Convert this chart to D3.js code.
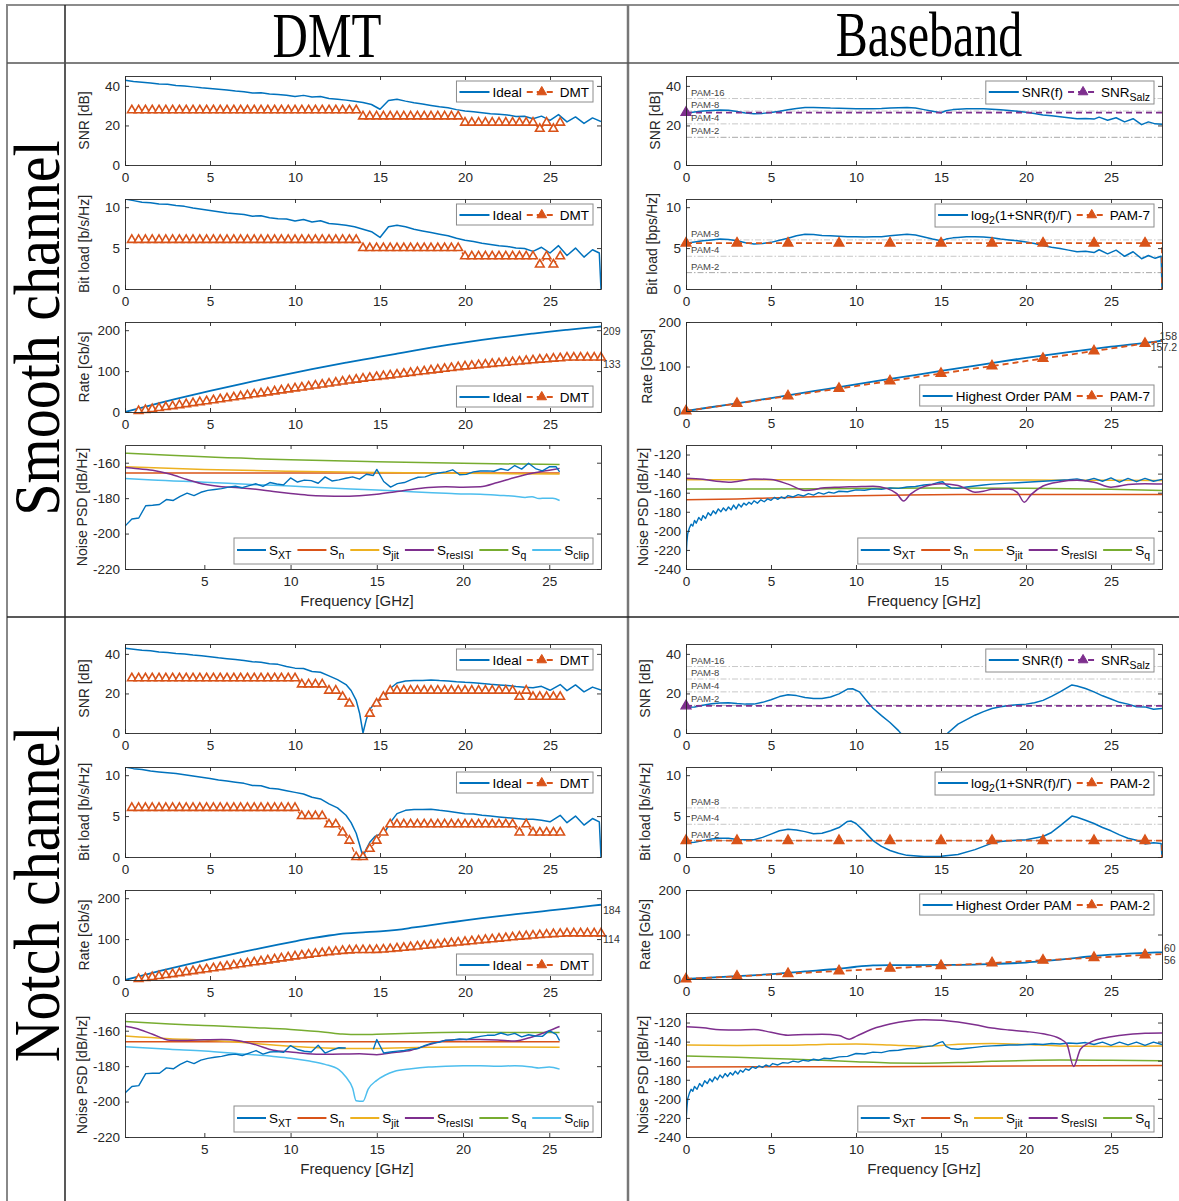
<!DOCTYPE html>
<html><head><meta charset="utf-8">
<script src="https://cdn.jsdelivr.net/npm/d3@7"></script>
<style>body{margin:0;background:#fff}svg{display:block}</style>
</head><body>
<svg id="chart" width="1179" height="1201"></svg>
<script>
// ================= DATA =================
const columnTitles = ["DMT", "Baseband"];
const rowTitles = ["Smooth channel", "Notch channel"];
const freqTicks = [0, 5, 10, 15, 20, 25];
const freqTicksPsdDmt = [5, 10, 15, 20, 25];
const snrTicks = [0, 20, 40];
const bitTicks = [0, 5, 10];
const rateTicks = [0, 100, 200];
const psdTicksDmt = [-220, -200, -180, -160];
const psdTicksBb = [-240, -220, -200, -180, -160, -140, -120];
const pamSnrLevels = [33.6, 27.3, 20.8, 14.0];
const pamSnrLabels = ["PAM-16", "PAM-8", "PAM-4", "PAM-2"];
const pamBitLevels = [6, 4, 2];
const pamBitLabels = ["PAM-8", "PAM-4", "PAM-2"];

const dmtSubcarrierGHz = [0.4,0.8,1.2,1.6,2.0,2.4,2.8,3.2,3.6,4.0, 4.4,4.8,5.2,5.6,6.0,6.4,6.8,7.2,7.6,8.0, 8.4,8.8,9.2,9.6,10.0,10.4,10.8,11.2,11.6,12.0, 12.4,12.8,13.2,13.6,14.0,14.4,14.8,15.2,15.6,16.0, 16.4,16.8,17.2,17.6,18.0,18.4,18.8,19.2,19.6,20.0, 20.4,20.8,21.2,21.6,22.0,22.4,22.8,23.2,23.6,24.0, 24.4,24.8,25.2,25.6];
const dmtRateGHz = [0.8,1.2,1.6,2.0,2.4,2.8,3.2,3.6,4.0,4.4, 4.8,5.2,5.6,6.0,6.4,6.8,7.2,7.6,8.0,8.4, 8.8,9.2,9.6,10.0,10.4,10.8,11.2,11.6,12.0,12.4, 12.8,13.2,13.6,14.0,14.4,14.8,15.2,15.6,16.0,16.4, 16.8,17.2,17.6,18.0,18.4,18.8,19.2,19.6,20.0,20.4, 20.8,21.2,21.6,22.0,22.4,22.8,23.2,23.6,24.0,24.4, 24.8,25.2,25.6,26.0,26.4,26.8,27.2,27.6,28.0];

// ---- Smooth channel / DMT ----
const smoothDmtSnrIdeal = [[0,42.8],[0.5,42.2],[1,41.9],[1.5,41.5],[2,41.0],[2.5,40.8],[3,40.2],[3.5,40.0],[4,39.5],[4.5,39.0],[5,38.7],[5.5,38.3],[6,37.9],[6.5,37.4],[7,37.0],[7.5,36.4],[8,36.5],[8.5,35.9],[9,35.6],[9.5,35.3],[10,34.6],[10.5,35.2],[11,34.4],[11.5,34.6],[12,33.6],[12.5,33.3],[13,32.8],[13.5,32.2],[14,31.6],[14.5,30.6],[15,28.2],[15.5,32.6],[16,33.2],[16.5,32.3],[17,31.5],[17.5,30.8],[18,30.1],[18.5,29.4],[19,28.9],[19.5,28.0],[20,27.3],[20.5,26.9],[21,26.4],[21.5,25.9],[22,25.6],[22.5,25.3],[23,24.5],[23.5,24.6],[24,23.4],[24.5,24.7],[25,22.6],[25.5,25.5],[26,21.8],[26.5,24.3],[27,21.0],[27.5,23.8],[28,22.0]];
const smoothDmtSnr = [27.7,27.7,27.7,27.7,27.7,27.7,27.7,27.7,27.7,27.7, 27.7,27.7,27.7,27.7,27.7,27.7,27.7,27.7,27.7,27.7, 27.7,27.7,27.7,27.7,27.7,27.7,27.7,27.7,27.7,27.7, 27.7,27.7,27.7,27.7,24.6,24.6,24.6,24.6,24.6,24.6, 24.6,24.6,24.6,24.6,24.6,24.6,24.6,24.6,24.6,21.4, 21.4,21.4,21.4,21.4,21.4,21.4,21.4,21.4,21.4,21.4, 18.3,21.4,18.3,21.4];
const smoothDmtBitIdeal = [[0,11.0],[0.5,10.8],[1,10.6],[1.5,10.55],[2,10.4],[2.5,10.35],[3,10.2],[3.5,10.1],[4,9.9],[4.5,9.75],[5,9.6],[5.5,9.45],[6,9.3],[6.5,9.2],[7,9.1],[7.5,8.9],[8,8.95],[8.5,8.7],[9,8.6],[9.5,8.55],[10,8.3],[10.5,8.5],[11,8.2],[11.5,8.35],[12,8.0],[12.5,7.9],[13,7.8],[13.5,7.6],[14,7.3],[14.5,7.0],[15,6.3],[15.5,7.6],[16,7.8],[16.5,7.6],[17,7.3],[17.5,7.1],[18,6.9],[18.5,6.7],[19,6.5],[19.5,6.2],[20,5.95],[20.5,5.8],[21,5.6],[21.5,5.45],[22,5.3],[22.5,5.2],[23,5.0],[23.5,4.95],[24,4.6],[24.5,5.1],[25,4.4],[25.5,5.3],[26,4.1],[26.5,5.0],[27,3.9],[27.5,4.8],[27.9,4.4],[28,0]];
const smoothDmtBits = [6,6,6,6,6,6,6,6,6,6, 6,6,6,6,6,6,6,6,6,6, 6,6,6,6,6,6,6,6,6,6, 6,6,6,6,5,5,5,5,5,5, 5,5,5,5,5,5,5,5,5,4, 4,4,4,4,4,4,4,4,4,4, 3,4,3,4];
const smoothDmtRateIdeal = [[0,0],[1,10.9],[2,21.6],[3,31.9],[4,41.9],[5,51.6],[6,61.0],[7,70.2],[8,79.2],[9,87.9],[10,96.4],[11,104.7],[12,112.8],[13,120.7],[14,128.3],[15,135.2],[16,142.6],[17,150.2],[18,157.4],[19,164.1],[20,170.3],[21,176.2],[22,181.7],[23,186.9],[24,191.8],[25,196.5],[26,200.9],[27,205.1],[28,209]];
const smoothDmtRate = [2.4,4.8,7.2,9.6,12.0,14.4,16.8,19.2,21.6,24.0, 26.4,28.8,31.2,33.6,36.0,38.4,40.8,43.2,45.6,48.0, 50.4,52.8,55.2,57.6,60.0,62.4,64.8,67.2,69.6,72.0, 74.4,76.8,79.2,81.6,83.6,85.6,87.6,89.6,91.6,93.6, 95.6,97.6,99.6,101.6,103.6,105.6,107.6,109.6,111.6,113.0, 114.5,116.0,117.5,119.0,120.5,122.0,123.5,125.0,126.5,128.0, 129.0,130.5,131.5,133.0,133.0,133.0,133.0,133.0,133.0];
const smoothDmtRateEnd = ["209", "133"];
const smoothDmtXT = [[0.4,-195.8],[0.8,-191.8],[1.2,-191.2],[1.6,-184.3],[2.0,-184.0],[2.4,-183.6],[2.8,-180.8],[3.2,-181.3],[3.6,-179.0],[4.0,-177.2],[4.4,-178.6],[4.8,-176.7],[5.2,-175.6],[5.6,-175.1],[6.0,-174.6],[6.4,-173.8],[6.8,-173.3],[7.2,-174.1],[7.6,-172.9],[8.0,-171.9],[8.4,-173.4],[8.8,-171.2],[9.2,-172.0],[9.6,-172.5],[10.0,-168.6],[10.4,-170.9],[10.8,-169.8],[11.2,-170.1],[11.6,-171.6],[12.0,-168.0],[12.4,-170.3],[12.8,-169.7],[13.2,-168.8],[13.6,-168.0],[14.0,-169.3],[14.4,-166.5],[14.8,-167.2],[15.0,-163.8],[15.4,-170.6],[15.8,-173.8],[16.2,-171.8],[16.6,-171.2],[17.0,-169.5],[17.4,-168.2],[17.8,-168.0],[18.2,-166.6],[18.6,-165.8],[19.0,-165.2],[19.4,-164.0],[19.8,-166.8],[20.2,-166.6],[20.6,-165.2],[21.0,-164.7],[21.4,-164.6],[21.8,-164.8],[22.2,-163.4],[22.6,-164.3],[23.0,-161.6],[23.4,-163.6],[23.8,-160.3],[24.2,-163.3],[24.6,-164.6],[25.0,-162.3],[25.4,-162.3],[25.6,-165.2]];
const smoothDmtSn = [[0.4,-165.8],[25.6,-165.8]];
const smoothDmtSjit = [[0.4,-162.3],[5,-163.8],[10,-164.8],[15,-165.5],[20,-166.0],[25.6,-166.4]];
const smoothDmtResIsi = [[0.4,-162.7],[1,-163.2],[2,-164.3],[3,-166.4],[4,-169.5],[5,-172.2],[6,-173.6],[7,-174.1],[8,-175.0],[9,-176.3],[10,-177.4],[11,-178.3],[12,-178.8],[13,-179.0],[14,-178.6],[15,-177.8],[16,-176.5],[17,-175.1],[18,-174.0],[19,-173.5],[20,-173.8],[21,-173.6],[22,-171.2],[23,-168.4],[24,-166.0],[25,-164.2],[25.6,-163.2]];
const smoothDmtSq = [[0.4,-154.6],[3,-155.8],[5,-156.7],[10,-158.3],[15,-159.4],[20,-160.3],[25.6,-161.0]];
const smoothDmtSclip = [[0.4,-168.9],[2,-169.8],[5,-171.0],[8,-172.4],[10,-173.2],[12,-174.2],[15,-175.4],[17,-176.4],[19,-177.2],[20,-177.6],[21,-177.8],[22,-178.4],[23,-178.9],[23.6,-179.6],[24,-179.2],[24.4,-180.2],[24.8,-180.0],[25.2,-180.1],[25.6,-181.3]];

// ---- Smooth channel / Baseband ----
const smoothBbSnr = [[0,26.2],[0.5,26.8],[1,27.3],[1.5,27.6],[2,27.8],[2.5,27.7],[3,27.0],[3.5,26.3],[4,25.9],[4.5,26.1],[5,26.6],[5.5,27.2],[6,27.9],[6.5,28.6],[7,29.1],[7.5,29.1],[8,29.0],[8.5,28.8],[9,28.7],[9.5,28.6],[10,28.4],[10.5,28.4],[11,28.5],[11.5,28.6],[12,28.8],[12.5,29.0],[13,29.1],[13.5,28.8],[14,28.0],[14.5,27.2],[15,26.4],[15.3,27.4],[15.7,28.0],[16,28.2],[16.5,28.4],[17,28.5],[17.5,28.4],[18,28.2],[18.5,27.9],[19,27.6],[19.5,27.2],[20,26.7],[20.5,26.0],[21,25.3],[21.5,24.9],[22,24.4],[22.5,23.9],[23,23.4],[23.5,23.5],[24,23.2],[24.3,24.2],[24.8,22.6],[25.3,23.9],[25.8,21.8],[26.3,23.4],[26.8,20.4],[27.2,21.8],[27.6,20.8],[28,20.6]];
const smoothBbSalz = 26.5;
const smoothBbBits = [[0,5.6],[0.5,5.75],[1,5.9],[1.5,6.0],[2,6.1],[2.5,6.05],[3,5.9],[3.5,5.65],[4,5.5],[4.5,5.55],[5,5.7],[5.5,5.95],[6,6.2],[6.5,6.5],[7,6.7],[7.5,6.65],[8,6.55],[8.5,6.5],[9,6.45],[9.5,6.4],[10,6.4],[10.5,6.35],[11,6.4],[11.5,6.4],[12,6.5],[12.5,6.6],[13,6.7],[13.5,6.6],[14,6.35],[14.5,6.1],[15,5.9],[15.3,6.1],[15.7,6.25],[16,6.3],[16.5,6.4],[17,6.4],[17.5,6.35],[18,6.25],[18.5,6.1],[19,6.0],[19.5,5.9],[20,5.75],[20.5,5.55],[21,5.3],[21.5,5.1],[22,4.95],[22.5,4.75],[23,4.55],[23.5,4.6],[24,4.45],[24.3,4.8],[24.8,4.3],[25.3,4.75],[25.8,4.0],[26.3,4.55],[26.8,3.7],[27.2,4.1],[27.6,3.75],[27.95,4.0],[28,0]];
const smoothBbPam7Bits = [[0,5.6],[3,5.6],[6,5.6],[9,5.6],[12,5.6],[15,5.6],[18,5.6],[21,5.6],[24,5.6],[27,5.6],[28,5.6],[28,0]];
const smoothBbRateHighest = [[0,0],[2.5,14.5],[5,29],[7.5,44.5],[10,60],[12.5,75],[15,90],[17.5,105],[20,119.5],[22.5,132.5],[25,144.5],[27.5,155.5],[28,158]];
const smoothBbRatePam7 = [[0,0],[3,16.8],[6,33.7],[9,50.5],[12,67.4],[15,84.2],[18,101.0],[21,117.9],[24,134.8],[27,151.6],[28,157.2]];
const smoothBbRateEnd = ["158", "157.2"];
const smoothBbXT = [[0,-230],[0.05,-212],[0.1,-203],[0.2,-197],[0.3,-193],[0.4,-195],[0.5,-189],[0.6,-192],[0.75,-186],[0.9,-189],[1,-184],[1.15,-187],[1.3,-181],[1.45,-184],[1.6,-179],[1.75,-182],[1.9,-177],[2.05,-180],[2.2,-176],[2.35,-179],[2.5,-175],[2.65,-178],[2.8,-173],[2.95,-177],[3.1,-172],[3.25,-175],[3.4,-171],[3.55,-173],[3.7,-170],[3.85,-172],[4,-168.5],[4.2,-171],[4.4,-167.5],[4.6,-169.5],[4.8,-166.5],[5,-168],[5.2,-165],[5.4,-167],[5.6,-164.5],[5.8,-166],[6,-163],[6.3,-164.5],[6.6,-162],[6.9,-163.5],[7.2,-161],[7.5,-162.5],[7.8,-160],[8.1,-161.5],[8.4,-159.5],[8.7,-160.5],[9,-158.5],[9.5,-159],[10,-157],[10.5,-157.5],[11,-156],[11.5,-156.5],[12,-155],[12.5,-155.5],[13,-154],[13.5,-153.5],[14,-152],[14.5,-151],[14.9,-149],[15.1,-148.5],[15.3,-152],[15.6,-155],[16,-155.5],[16.5,-154],[17,-153],[17.5,-152],[18,-151],[18.5,-150.5],[19,-150],[19.5,-149.5],[20,-149],[20.5,-148.5],[21,-148],[21.5,-147.5],[22,-147],[22.5,-146.5],[23,-145.5],[23.5,-147.5],[24,-145],[24.5,-148],[25,-144.5],[25.5,-149],[26,-145],[26.5,-148.5],[27,-145],[27.5,-148],[28,-146]];
const smoothBbSn = [[0,-167.5],[3,-166.5],[5,-165.5],[8,-164],[10,-163.3],[13,-162.5],[16,-162],[20,-161.8],[28,-161.8]];
const smoothBbSjit = [[0,-146.5],[5,-146.5],[10,-146.6],[15,-146.7],[20,-146.8],[25,-147],[28,-147.2]];
const smoothBbResIsi = [[0,-144.8],[1,-146],[2,-148.3],[2.5,-149],[3,-148.2],[4,-145.6],[5,-146.2],[6,-151],[7,-157.6],[7.5,-157],[8,-155],[9,-154.2],[10,-153.7],[11,-153.2],[11.8,-155.5],[12.4,-161],[12.8,-168.7],[13.2,-161.5],[13.8,-155],[14.5,-151.5],[15,-150.5],[16,-152.5],[16.5,-156],[17,-159.5],[17.5,-158.5],[18,-156.5],[19,-156.2],[19.5,-160],[19.9,-170],[20.3,-162],[21,-153],[22,-148.5],[23,-147],[24,-149],[25,-154.3],[26,-151.5],[27,-150.5],[28,-151]];
const smoothBbSq = [[0,-156],[5,-156.2],[10,-155.6],[15,-155],[20,-155.4],[25,-156.5],[28,-157.6]];

// ---- Notch channel / DMT ----
const notchDmtSnrIdeal = [[0,42.8],[0.5,42.3],[1,41.8],[1.5,41.6],[2,41.0],[2.5,40.7],[3,40.2],[3.5,39.9],[4,39.4],[4.5,39.0],[5,38.6],[5.5,38.0],[6,37.6],[6.5,37.2],[7,36.6],[7.5,36.0],[8,35.8],[8.5,35.0],[9,34.7],[9.5,33.6],[10,32.8],[10.5,32.6],[11,31.1],[11.5,30.7],[12,28.9],[12.5,27.0],[13,24.5],[13.3,21.5],[13.6,16.5],[13.8,10],[14.0,0],[14.2,7],[14.4,12],[14.7,15],[15,16.8],[15.3,18.5],[15.6,22.5],[16,25.3],[16.5,26.3],[17,26.5],[17.5,26.6],[18,26.8],[18.5,26.5],[19,26.3],[19.5,25.9],[20,25.6],[20.5,25.4],[21,25.0],[21.5,24.6],[22,24.3],[22.5,24.0],[23,23.5],[23.5,23.1],[24,22.9],[24.5,23.6],[25,21.6],[25.6,24.5],[26,21.4],[26.5,24.3],[27,20.8],[27.5,23.2],[28,21.7]];
const notchDmtSnr = [27.7,27.7,27.7,27.7,27.7,27.7,27.7,27.7,27.7,27.7, 27.7,27.7,27.7,27.7,27.7,27.7,27.7,27.7,27.7,27.7, 27.7,27.7,27.7,27.7,27.7,24.6,24.6,24.6,24.6,21.4, 21.4,18.3,14.9,null,null,9.8,14.9,18.3,21.4,21.4, 21.4,21.4,21.4,21.4,21.4,21.4,21.4,21.4,21.4,21.4, 21.4,21.4,21.4,21.4,21.4,21.4,21.4,18.3,21.4,18.3, 18.3,18.3,18.3,18.3];
const notchDmtBitIdeal = [[0,11.0],[0.5,10.8],[1,10.7],[1.5,10.5],[2,10.4],[2.5,10.3],[3,10.2],[3.5,10.05],[4,9.9],[4.5,9.75],[5,9.6],[5.5,9.4],[6,9.3],[6.5,9.15],[7,9.0],[7.5,8.75],[8,8.7],[8.5,8.4],[9,8.3],[9.5,8.1],[10,7.9],[10.5,7.7],[11,7.3],[11.5,7.1],[12,6.5],[12.5,6.0],[13,5.1],[13.3,4.2],[13.6,2.9],[13.8,1.5],[14,0],[14.2,1.0],[14.4,1.8],[14.7,2.5],[15,2.8],[15.3,3.1],[15.6,4.2],[16,5.3],[16.5,5.7],[17,5.8],[17.5,5.8],[18,5.85],[18.5,5.7],[19,5.6],[19.5,5.45],[20,5.3],[20.5,5.25],[21,5.1],[21.5,5.0],[22,4.9],[22.5,4.8],[23,4.7],[23.5,4.6],[24,4.6],[24.5,4.5],[25,4.3],[25.6,5.1],[26,4.2],[26.5,5.0],[27,3.9],[27.5,4.7],[27.9,4.3],[28,0]];
const notchDmtBits = [6,6,6,6,6,6,6,6,6,6, 6,6,6,6,6,6,6,6,6,6, 6,6,6,6,6,5,5,5,5,4, 4,3,2,0,0,1,2,3,4,4, 4,4,4,4,4,4,4,4,4,4, 4,4,4,4,4,4,4,3,4,3, 3,3,3,3];
const notchDmtRateIdeal = [[0,0],[1,10.9],[2,21.5],[3,31.7],[4,41.5],[5,51.0],[6,60.3],[7,69.3],[8,78.0],[9,86.5],[10,94.6],[11,102.2],[12,108.8],[13,114.0],[14,116.6],[15,118.8],[16,122.6],[17,128.4],[18,134.2],[19,140.0],[20,145.8],[21,151.0],[22,156.0],[23,160.8],[24,165.5],[25,170.0],[26,174.6],[27,179.3],[28,184]];
const notchDmtRate = [2.4,4.8,7.2,9.6,12.0,14.4,16.8,19.2,21.6,24.0, 26.4,28.8,31.2,33.6,36.0,38.4,40.8,43.2,45.6,48.0, 50.4,52.8,55.2,57.6,60.0,62.0,64.0,66.0,68.0,69.6, 71.2,72.4,73.2,73.2,73.2,73.6,74.4,75.6,77.2,78.8, 80.4,82.0,83.6,85.2,86.8,88.4,90.0,91.6,93.2,94.8, 96.4,98.0,99.6,101.2,102.8,104.4,106.0,107.2,108.8,110.0, 111.0,112.0,113.0,114.0,114.0,114.0,114.0,114.0,114.0];
const notchDmtRateEnd = ["184", "114"];
const notchDmtXT = [[0.4,-195.2],[0.8,-191.5],[1.2,-191.0],[1.6,-184.2],[2.0,-184.0],[2.4,-184.0],[2.8,-181.0],[3.2,-181.5],[3.6,-179.0],[4.0,-177.2],[4.4,-178.6],[4.8,-176.6],[5.2,-175.6],[5.6,-175.0],[6.0,-174.5],[6.4,-173.6],[6.8,-173.2],[7.2,-174.0],[7.6,-172.6],[8.0,-171.2],[8.4,-173.2],[8.8,-172.0],[9.2,-171.8],[9.6,-172.2],[10.0,-168.4],[10.4,-170.6],[10.8,-171.6],[11.2,-172.0],[11.6,-168.2],[12.0,-172.6],[12.4,-171.0],[12.8,-169.6],[13.2,-169.8],[13.6,null],[14.4,null],[14.8,-170.5],[15.0,-165.0],[15.4,-172.6],[15.8,-172.0],[16.2,-171.5],[16.6,-171.2],[17.0,-170.4],[17.4,-170.0],[17.8,-168.3],[18.2,-167.0],[18.6,-166.6],[19.0,-165.3],[19.4,-165.2],[19.8,-164.6],[20.2,-165.0],[20.6,-164.0],[21.0,-163.2],[21.4,-162.6],[21.8,-162.6],[22.2,-161.3],[22.6,-162.5],[23.0,-161.5],[23.4,-163.5],[23.8,-162.3],[24.2,-163.0],[24.6,-163.2],[25.0,-160.0],[25.4,-162.0],[25.6,-165.6]];
const notchDmtSn = [[0.4,-166.3],[25.6,-166.3]];
const notchDmtSjit = [[0.4,-163.0],[3,-164.5],[5,-165.3],[7,-166.5],[9,-168.0],[10,-168.8],[12,-169.8],[14,-170.1],[16,-169.8],[18,-169.4],[20,-169.2],[25.6,-169.3]];
const notchDmtResIsi = [[0.4,-157.5],[1,-158.6],[2,-162.0],[3,-165.4],[4,-165.5],[5,-165.1],[6,-164.9],[7,-165.6],[8,-168.0],[9,-171.0],[10,-172.0],[11,-173.0],[12,-173.3],[13,-173.2],[14,-173.0],[15,-173.5],[16,-172.3],[17,-171.0],[18,-168.0],[19,-165.5],[20,-165.0],[21,-165.0],[22,-165.2],[23,-165.8],[24,-163.5],[25,-160.0],[25.6,-157.6]];
const notchDmtSq = [[0.4,-154.8],[3,-156.2],[5,-157.0],[8,-158.3],[10,-159.3],[12,-160.8],[13,-161.9],[14,-162.2],[15,-162.0],[17,-161.4],[20,-160.9],[25.6,-161.0]];
const notchDmtSclip = [[0.4,-169.0],[3,-170.5],[5,-171.5],[7,-173.0],[9,-174.5],[10,-175.5],[11,-177.0],[12,-179.0],[12.8,-182.0],[13.2,-186.0],[13.6,-192.5],[13.8,-199.5],[14.2,-199.8],[14.5,-193.0],[15.0,-188.0],[15.5,-185.0],[16,-183.0],[17,-181.5],[18,-180.5],[19,-180.0],[20,-179.8],[21,-179.8],[22,-180.0],[23,-179.8],[24,-180.5],[24.4,-181.0],[25,-180.5],[25.6,-181.7]];

// ---- Notch channel / Baseband ----
const notchBbSnr = [[0,13.0],[0.5,13.2],[1,14.0],[1.5,14.8],[2,15.2],[2.5,15.3],[3,14.9],[3.5,14.6],[4,14.6],[4.5,15.5],[5,16.8],[5.5,18.4],[6,19.3],[6.5,18.9],[7,18.0],[7.5,17.4],[8,17.5],[8.5,18.2],[9,19.8],[9.5,22.2],[9.8,22.4],[10.2,20.8],[10.6,16.6],[11,12.5],[11.5,8.8],[12,5.3],[12.5,1.2],[13,-4],[14,-10],[15,-4],[15.4,0],[16,4.5],[16.5,6.8],[17,9],[17.5,10.8],[18,12.4],[18.5,13.3],[19,13.9],[19.5,14.3],[20,14.6],[20.5,15.3],[21,16.5],[21.5,18.5],[22,20.8],[22.7,24.3],[23,23.8],[23.5,22.5],[24,20.8],[24.5,18.8],[25,17.2],[25.5,15.5],[26,14.6],[26.5,13.3],[27,13.2],[27.5,12.0],[28,12.4]];
const notchBbSalz = 13.7;
const notchBbBits = [[0,1.75],[0.5,1.8],[1,2.0],[1.5,2.2],[2,2.3],[2.5,2.3],[3,2.15],[3.5,2.1],[4,2.1],[4.5,2.4],[5,2.8],[5.5,3.2],[6,3.4],[6.5,3.3],[7,3.1],[7.5,2.85],[8,2.9],[8.5,3.2],[9,3.6],[9.5,4.35],[9.7,4.4],[10,4.1],[10.5,3.1],[11,2.0],[11.5,1.3],[12,0.8],[12.5,0.45],[13,0.2],[14,0.05],[15,0.08],[16,0.3],[17,0.9],[17.5,1.3],[18,1.7],[18.5,1.9],[19,2.0],[20,2.1],[21,2.5],[21.5,3.0],[22,3.8],[22.7,5.0],[23,4.85],[23.5,4.5],[24,4.1],[24.5,3.6],[25,3.2],[25.5,2.7],[26,2.3],[26.5,2.05],[27,1.6],[27.5,1.75],[27.95,1.65],[28,0]];
const notchBbPam2Bits = [[0,2],[3,2],[6,2],[9,2],[12,2],[15,2],[18,2],[21,2],[24,2],[27,2],[28,2],[28,0]];
const notchBbRateHighest = [[0,0],[3,6.5],[5,11],[7,17],[9,23],[10,27.5],[11,30.5],[12,31.2],[15,31.6],[17,32.5],[18,33.5],[20,37],[21,40],[22,43.5],[23,47.5],[24,52],[25,55],[26,57],[27,58.7],[28,60]];
const notchBbRatePam2 = [[0,0],[3,6],[6,12],[9,18],[12,24],[15,30],[18,36],[21,42],[24,48],[27,54],[28,56]];
const notchBbRateEnd = ["60", "56"];
const notchBbXT = [[0,-225],[0.05,-210],[0.1,-200],[0.2,-194],[0.3,-190],[0.4,-192],[0.5,-187],[0.65,-190],[0.8,-184],[0.95,-187],[1.1,-181],[1.25,-184],[1.4,-179],[1.55,-182],[1.7,-177],[1.85,-180],[2,-175],[2.15,-178],[2.3,-173.5],[2.45,-176.5],[2.6,-172.5],[2.75,-175],[2.9,-171],[3.05,-174],[3.2,-170],[3.35,-172],[3.5,-168.5],[3.7,-170],[3.9,-166.5],[4.1,-168],[4.3,-165.5],[4.5,-167],[4.7,-164.5],[4.9,-166],[5.1,-163],[5.4,-164.5],[5.7,-162],[6,-162.5],[6.3,-160.5],[6.6,-161.5],[6.9,-159.5],[7.2,-160.5],[7.5,-158.5],[7.8,-159.5],[8.1,-157.5],[8.5,-158],[9,-156],[9.5,-155.5],[10,-152.5],[10.5,-153],[11,-151],[11.5,-151.5],[12,-149.5],[12.5,-149],[13,-147.5],[13.5,-147],[14,-145.5],[14.5,-144.5],[14.9,-141],[15.1,-140],[15.3,-145],[15.6,-147.5],[16,-148],[16.5,-147],[17,-146],[17.5,-145],[18,-144.5],[18.5,-144],[19,-143.5],[19.5,-143.5],[20,-143],[20.5,-142.5],[21,-143],[21.5,-142],[22,-142.5],[22.5,-141.5],[23,-142],[23.5,-141],[24,-143],[24.5,-140.5],[25,-144],[25.5,-140.5],[26,-143.5],[26.5,-140.5],[27,-144],[27.5,-140.5],[28,-143]];
const notchBbSn = [[0,-166.5],[10,-166.3],[20,-165.5],[28,-165]];
const notchBbSjit = [[0,-143.5],[3,-144],[6,-143.8],[8,-143],[10,-142.5],[12,-143.5],[14,-145],[16,-142.8],[18,-142],[20,-143],[22,-144.5],[25,-145],[28,-144.5]];
const notchBbResIsi = [[0,-124.5],[1,-125.5],[2,-127.5],[3,-127.8],[4,-127.2],[5,-130.2],[6,-133.3],[7,-132.6],[8,-132.2],[9,-133.6],[9.6,-137.5],[10,-134.5],[11,-126.5],[12,-121.5],[13,-118.3],[14,-117],[15,-117.6],[16,-119.5],[17,-122.3],[18,-125.8],[19,-127.8],[20,-129.4],[21,-131.8],[22,-137],[22.4,-142.5],[22.8,-166],[23.2,-148],[23.7,-141.5],[24,-139],[25,-135],[26,-132.5],[27,-131.2],[28,-131]];
const notchBbSq = [[0,-155],[3,-156.5],[6,-158.3],[8,-159.5],[10,-161],[12,-162.3],[14,-162.6],[16,-162],[18,-160.7],[20,-159.7],[22,-159.2],[25,-159.5],[28,-160]];

// legend labels ([text, isSubscript])
const lblIdeal = [["Ideal",0]], lblDmt = [["DMT",0]];
const lblSnrF = [["SNR(f)",0]], lblSalz = [["SNR",0],["Salz",1]];
const lblLog2 = [["log",0],["2",1],["(1+SNR(f)/\u0393)",0]];
const lblHighest = [["Highest Order PAM",0]], lblPam7 = [["PAM-7",0]], lblPam2 = [["PAM-2",0]];
const lblXT = [["S",0],["XT",1]], lblN = [["S",0],["n",1]], lblJit = [["S",0],["jit",1]],
      lblIsi = [["S",0],["resISI",1]], lblQ = [["S",0],["q",1]], lblClip = [["S",0],["clip",1]];
const yLabels = {snr:"SNR [dB]", bitDmt:"Bit load [b/s/Hz]", bitBbps:"Bit load [bps/Hz]", rate:"Rate [Gb/s]", rateGbps:"Rate [Gbps]", psd:"Noise PSD [dB/Hz]"};
const xLabel = "Frequency [GHz]";

// ================= DRAWING =================
const COL = {blue:"#0072BD", orange:"#D95319", yellow:"#EDB120", purple:"#7E2F8E", green:"#77AC30", cyan:"#4DBEEE"};
const FONT = '"Liberation Sans", Arial, Helvetica, sans-serif';
const SERIF = '"Liberation Serif", "Times New Roman", serif';
const AX = "#262626";
const PW = 476;
const svg = d3.select("#chart");
let clipCount = 0;
const plain = d => String(d);

// table
const tl = (x1,y1,x2,y2,c,w)=>svg.append("line").attr("x1",x1).attr("y1",y1).attr("x2",x2).attr("y2",y2).attr("stroke",c).attr("stroke-width",w);
tl(7,5,1179,5,"#666",1.5);
tl(7,4,7,1201,"#888",2);
tl(65,5,65,1201,"#222",1.5);
tl(628,5,628,1201,"#777",2.5);
tl(7,63,1179,63,"#555",1.5);
tl(7,617,1179,617,"#222",1.5);

svg.append("text").attr("transform","translate(327,57) scale(1,1.3)").attr("text-anchor","middle")
  .style("font-family",SERIF).style("font-size","49px").attr("fill","#000").text(columnTitles[0]);
svg.append("text").attr("transform","translate(929,56) scale(1,1.3)").attr("text-anchor","middle")
  .style("font-family",SERIF).style("font-size","48px").attr("fill","#000").text(columnTitles[1]);
svg.append("text").attr("transform","translate(59,328) rotate(-90) scale(1,1.14)").attr("text-anchor","middle")
  .style("font-family",SERIF).style("font-size","58px").attr("fill","#000").text(rowTitles[0]);
svg.append("text").attr("transform","translate(59,894) rotate(-90) scale(1,1.14)").attr("text-anchor","middle")
  .style("font-family",SERIF).style("font-size","58px").attr("fill","#000").text(rowTitles[1]);

function rich(t, parts){
  let sub = false;
  parts.forEach(([s,isSub])=>{
    const ts = t.append("tspan").text(s);
    if (isSub && !sub){ ts.attr("dy",4.5).style("font-size","10.5px"); sub = true; }
    else if (!isSub && sub){ ts.attr("dy",-4.5); sub = false; }
    else if (isSub) ts.style("font-size","10.5px");
  });
}

function drawLegend(g, h, items, o){
  const lg = g.append("g");
  const box = lg.append("rect");
  let cx = 3;
  items.forEach((it,i)=>{
    const L = o.len;
    if (it.kind === "line"){
      lg.append("line").attr("x1",cx).attr("x2",cx+L).attr("y1",o.lineY).attr("y2",o.lineY)
        .attr("stroke",it.color).attr("stroke-width",2);
    } else {
      lg.append("line").attr("x1",cx).attr("x2",cx+L).attr("y1",o.lineY).attr("y2",o.lineY)
        .attr("stroke",it.color).attr("stroke-width",2).attr("stroke-dasharray","6,4");
      lg.append("path").attr("d",d3.symbol(d3.symbolTriangle, 40)())
        .attr("transform",`translate(${cx+L/2},${o.lineY})`).attr("fill",it.color).attr("stroke",it.color);
    }
    const t = lg.append("text").attr("x",cx+L+3).attr("y",o.textY)
      .style("font-family",FONT).style("font-size","13.5px").attr("fill","#000");
    rich(t, it.parts);
    const tw = t.node().getComputedTextLength();
    cx += L + 3 + tw + (i < items.length-1 ? o.gap : 4);
  });
  box.attr("width",cx).attr("height",o.h).attr("fill","#fff").attr("stroke","#8c8c8c").attr("stroke-width",1);
  const bx = PW - 8 - cx;
  const by = o.pos === "ne" ? (o.top || 5) : h - 5 - o.h;
  lg.attr("transform",`translate(${bx},${by})`);
}

function drawPanel(o){
  const g = svg.append("g").attr("transform",`translate(${o.x},${o.y})`);
  const x = d3.scaleLinear().domain(o.xd).range([0,PW]);
  const y = d3.scaleLinear().domain(o.yd).range([o.h,0]);
  const cid = "clip" + (clipCount++);
  g.append("clipPath").attr("id",cid).append("rect").attr("width",PW).attr("height",o.h);
  const plot = g.append("g").attr("clip-path",`url(#${cid})`);
  if (o.pam){
    o.pam.levels.forEach((lv,i)=>{
      plot.append("line").attr("x1",0).attr("x2",PW).attr("y1",y(lv)).attr("y2",y(lv))
        .attr("stroke", i === o.pam.levels.length-1 ? "#a8a8a8" : "#c8c8c8").attr("stroke-width",1)
        .attr("stroke-dasharray","6,2,1.5,2");
      g.append("text").attr("x",5).attr("y",y(lv)-3).text(o.pam.labels[i])
        .style("font-family",FONT).style("font-size","9.5px").attr("fill","#444");
    });
  }
  const line = d3.line().defined(d=>d[1] != null).x(d=>x(d[0])).y(d=>y(d[1]));
  o.series.forEach(s=>{
    if (s.data){
      plot.append("path").datum(s.data)
        .attr("d", line.curve(s.smooth ? d3.curveMonotoneX : d3.curveLinear))
        .attr("fill","none").attr("stroke",s.color).attr("stroke-width",s.width || 1.5)
        .attr("stroke-dasharray", s.dash || null).attr("stroke-linejoin","round");
    }
    if (s.marks){
      g.append("g").selectAll("path").data(s.marks.filter(d=>d[1] != null)).join("path")
        .attr("transform",d=>`translate(${x(d[0])},${y(d[1])})`)
        .attr("d", d3.symbol(d3.symbolTriangle, s.msize || 32)())
        .attr("fill", s.hollow ? "#fff" : s.color).attr("stroke",s.color).attr("stroke-width",s.hollow ? 1.6 : 1.2);
    }
  });
  const styleAxis = a => {
    a.attr("font-size",null).attr("font-family",null);
    a.select(".domain").attr("stroke",AX).attr("stroke-width",0.9);
    a.selectAll(".tick line").attr("stroke",AX).attr("stroke-width",0.9);
    a.selectAll(".tick text").style("font-family",FONT).style("font-size","13.5px").attr("fill",AX);
  };
  g.append("g").attr("transform",`translate(0,${o.h})`)
    .call(d3.axisBottom(x).tickValues(o.xt).tickSizeInner(-4).tickSizeOuter(0).tickPadding(7).tickFormat(plain)).call(styleAxis);
  g.append("g").call(d3.axisTop(x).tickValues(o.xt).tickSizeInner(-4).tickSizeOuter(0).tickFormat("")).call(styleAxis);
  g.append("g").call(d3.axisLeft(y).tickValues(o.yt).tickSizeInner(-4).tickSizeOuter(0).tickPadding(5).tickFormat(plain)).call(styleAxis);
  g.append("g").attr("transform",`translate(${PW},0)`)
    .call(d3.axisRight(y).tickValues(o.yt).tickSizeInner(-4).tickSizeOuter(0).tickFormat("")).call(styleAxis);
  g.append("text").attr("transform",`translate(${o.ylx},${o.h/2}) rotate(-90)`)
    .attr("text-anchor","middle").attr("dominant-baseline","central")
    .style("font-family",FONT).style("font-size","14px").attr("fill",AX).text(o.ylab);
  if (o.xlab){
    g.append("text").attr("x",PW/2 + (o.xlabDx || 0)).attr("y",o.h + 37).attr("text-anchor","middle")
      .style("font-family",FONT).style("font-size","15px").attr("fill",AX).text(o.xlab);
  }
  if (o.ends){
    o.ends.forEach(e=>{
      g.append("text").attr("x",e.anchor === "end" ? PW + 15 : PW + 2).attr("y",y(e.v) + e.dy)
        .attr("text-anchor", e.anchor || "start")
        .style("font-family",FONT).style("font-size","10.5px").attr("fill","#333").text(e.t);
    });
  }
  if (o.legend) drawLegend(g, o.h, o.legend.items, o.legend);
}

const zip = (xs, ys) => xs.map((v,i)=>[v, ys[i]]);
const LEG_SIMPLE = {len:30, gap:5, h:21, lineY:11, textY:15.5};
const LEG_SUB = {len:30, gap:5, h:23, lineY:11, textY:15.5};
const LEG_PSD = {len:29, gap:6, h:26, lineY:12, textY:16.5, pos:"se"};
const dmtLeg = pos => Object.assign({}, LEG_SIMPLE, {pos, items:[
  {kind:"line", color:COL.blue, parts:lblIdeal}, {kind:"tri", color:COL.orange, parts:lblDmt}]});

const ROWS = [ {y:[76,199,322,445]}, {y:[644,767,890,1013]} ];
const DX = 125, BX = 686;

const psdLegDmt = Object.assign({}, LEG_PSD, {items:[
  {kind:"line", color:COL.blue, parts:lblXT}, {kind:"line", color:COL.orange, parts:lblN},
  {kind:"line", color:COL.yellow, parts:lblJit}, {kind:"line", color:COL.purple, parts:lblIsi},
  {kind:"line", color:COL.green, parts:lblQ}, {kind:"line", color:COL.cyan, parts:lblClip}]});
const psdLegBb = Object.assign({}, LEG_PSD, {items:psdLegDmt.items.slice(0,5)});

// ---------- DMT column ----------
[
  {row:ROWS[0], snrI:smoothDmtSnrIdeal, snr:smoothDmtSnr, bitI:smoothDmtBitIdeal, bits:smoothDmtBits,
   rateI:smoothDmtRateIdeal, rate:smoothDmtRate, ends:smoothDmtRateEnd, endDy:[8,10],
   psd:[smoothDmtXT, smoothDmtSn, smoothDmtSjit, smoothDmtResIsi, smoothDmtSq, smoothDmtSclip]},
  {row:ROWS[1], snrI:notchDmtSnrIdeal, snr:notchDmtSnr, bitI:notchDmtBitIdeal, bits:notchDmtBits,
   rateI:notchDmtRateIdeal, rate:notchDmtRate, ends:notchDmtRateEnd, endDy:[9,10],
   psd:[notchDmtXT, notchDmtSn, notchDmtSjit, notchDmtResIsi, notchDmtSq, notchDmtSclip]}
].forEach(c=>{
  const yy = c.row.y;
  drawPanel({x:DX, y:yy[0], h:89, xd:[0,28], yd:[0,45], xt:freqTicks, yt:snrTicks, ylab:yLabels.snr, ylx:-41,
    series:[{data:c.snrI, color:COL.blue},
            {data:zip(dmtSubcarrierGHz,c.snr), color:COL.orange, dash:"5,3", width:1.3, marks:zip(dmtSubcarrierGHz,c.snr), hollow:true}],
    legend:dmtLeg("ne")});
  drawPanel({x:DX, y:yy[1], h:90, xd:[0,28], yd:[0,11], xt:freqTicks, yt:bitTicks, ylab:yLabels.bitDmt, ylx:-41,
    series:[{data:c.bitI, color:COL.blue},
            {data:zip(dmtSubcarrierGHz,c.bits), color:COL.orange, dash:"5,3", width:1.3, marks:zip(dmtSubcarrierGHz,c.bits), hollow:true}],
    legend:dmtLeg("ne")});
  drawPanel({x:DX, y:yy[2], h:90, xd:[0,28], yd:[0,220], xt:freqTicks, yt:rateTicks, ylab:yLabels.rate, ylx:-41,
    series:[{data:c.rateI, color:COL.blue, smooth:true, width:1.8},
            {data:zip(dmtRateGHz,c.rate), color:COL.orange, dash:"5,3", width:1.3, marks:zip(dmtRateGHz,c.rate), hollow:true}],
    ends:[{t:c.ends[0], v:+c.ends[0], dy:c.endDy[0]}, {t:c.ends[1], v:+c.ends[1], dy:c.endDy[1]}],
    legend:dmtLeg("se")});
  const [xt, sn, jit, isi, q, clip] = c.psd;
  drawPanel({x:DX, y:yy[3], h:124, xd:[0.4,28], yd:[-220,-150], xt:freqTicksPsdDmt, yt:psdTicksDmt, ylab:yLabels.psd, ylx:-43,
    xlab:xLabel, xlabDx:-6,
    series:[{data:q, color:COL.green, smooth:true},
            {data:sn, color:COL.orange},
            {data:jit, color:COL.yellow, smooth:true},
            {data:clip, color:COL.cyan, smooth:true},
            {data:isi, color:COL.purple, smooth:true},
            {data:xt, color:COL.blue, width:1.4}],
    legend:psdLegDmt});
});

// ---------- Baseband column ----------
[
  {row:ROWS[0], snr:smoothBbSnr, salz:smoothBbSalz, bits:smoothBbBits, pamBits:smoothBbPam7Bits, pamLbl:lblPam7,
   rateH:smoothBbRateHighest, rateP:smoothBbRatePam7, ends:smoothBbRateEnd, endCfg:[{dy:-1, anchor:"end"},{dy:10,anchor:"end"}],
   bitLab:yLabels.bitBbps, rateLab:yLabels.rateGbps, ylx:[-31,-34,-39,-43], rateLegPos:"se",
   psd:[smoothBbXT, smoothBbSn, smoothBbSjit, smoothBbResIsi, smoothBbSq]},
  {row:ROWS[1], snr:notchBbSnr, salz:notchBbSalz, bits:notchBbBits, pamBits:notchBbPam2Bits, pamLbl:lblPam2,
   rateH:notchBbRateHighest, rateP:notchBbRatePam2, ends:notchBbRateEnd, endCfg:[{dy:0},{dy:10}],
   bitLab:yLabels.bitDmt, rateLab:yLabels.rate, ylx:[-41,-41,-41,-43], rateLegPos:"ne",
   psd:[notchBbXT, notchBbSn, notchBbSjit, notchBbResIsi, notchBbSq]}
].forEach(c=>{
  const yy = c.row.y;
  drawPanel({x:BX, y:yy[0], h:89, xd:[0,28], yd:[0,45], xt:freqTicks, yt:snrTicks, ylab:yLabels.snr, ylx:c.ylx[0],
    pam:{levels:pamSnrLevels, labels:pamSnrLabels},
    series:[{data:c.snr, color:COL.blue},
            {data:[[0,c.salz],[28,c.salz]], color:COL.purple, dash:"6,4", width:1.8, marks:[[0,c.salz]], msize:44}],
    legend:Object.assign({}, LEG_SUB, {pos:"ne", items:[
      {kind:"line", color:COL.blue, parts:lblSnrF}, {kind:"tri", color:COL.purple, parts:lblSalz}]})});
  drawPanel({x:BX, y:yy[1], h:90, xd:[0,28], yd:[0,11], xt:freqTicks, yt:bitTicks, ylab:c.bitLab, ylx:c.ylx[1],
    pam:{levels:pamBitLevels, labels:pamBitLabels},
    series:[{data:c.bits, color:COL.blue},
            {data:c.pamBits, color:COL.orange, dash:"6,4", width:1.8, marks:c.pamBits.slice(0,10), msize:44}],
    legend:Object.assign({}, LEG_SUB, {pos:"ne", items:[
      {kind:"line", color:COL.blue, parts:lblLog2}, {kind:"tri", color:COL.orange, parts:c.pamLbl}]})});
  drawPanel({x:BX, y:yy[2], h:89, xd:[0,28], yd:[0,200], xt:freqTicks, yt:rateTicks, ylab:c.rateLab, ylx:c.ylx[2],
    series:[{data:c.rateH, color:COL.blue, smooth:true, width:1.8},
            {data:c.rateP, color:COL.orange, dash:"6,4", width:1.8, marks:c.rateP.slice(0,10), msize:44}],
    ends:[Object.assign({t:c.ends[0], v:+c.ends[0]}, c.endCfg[0]), Object.assign({t:c.ends[1], v:+c.ends[1]}, c.endCfg[1])],
    legend:Object.assign({}, LEG_SIMPLE, {pos:c.rateLegPos, top:4, items:[
      {kind:"line", color:COL.blue, parts:lblHighest}, {kind:"tri", color:COL.orange, parts:c.pamLbl}]})});
  const [xt, sn, jit, isi, q] = c.psd;
  drawPanel({x:BX, y:yy[3], h:124, xd:[0,28], yd:[-240,-110], xt:freqTicks, yt:psdTicksBb, ylab:yLabels.psd, ylx:c.ylx[3],
    xlab:xLabel,
    series:[{data:q, color:COL.green, smooth:true},
            {data:sn, color:COL.orange, smooth:true},
            {data:jit, color:COL.yellow, smooth:true},
            {data:xt, color:COL.blue, width:1.4},
            {data:isi, color:COL.purple, smooth:true}],
    legend:psdLegBb});
});
</script>
</body></html>
